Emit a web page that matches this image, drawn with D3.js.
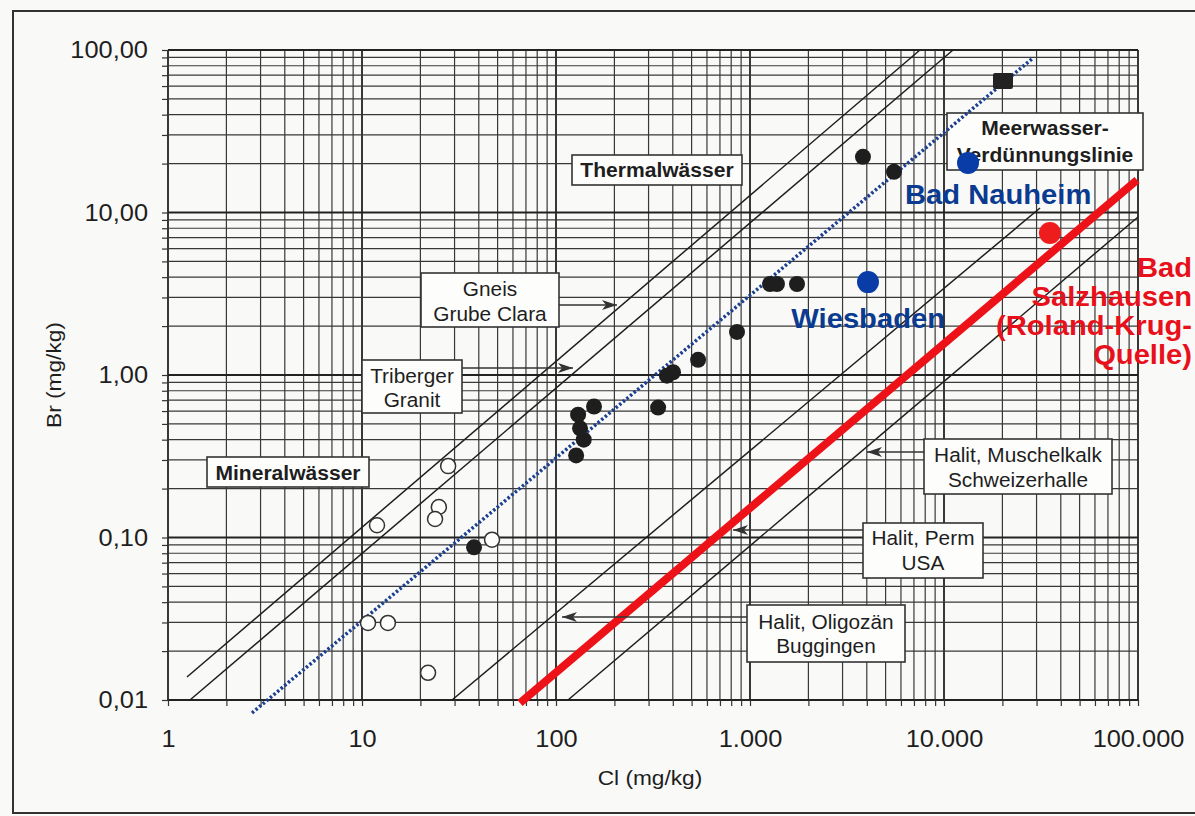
<!DOCTYPE html>
<meta charset="utf-8">
<style>
body { margin: 0; background: #f9faf8; }
svg { display: block; }
text { font-family: "Liberation Sans", Arial, sans-serif; fill: #1e1e1e; }
.grid line { stroke: #383838; stroke-width: 1.2; }
.grid line.major { stroke: #222; stroke-width: 1.8; }
.axis path { display: none; }
.axis line { stroke: #333; stroke-width: 1.2; }
.axis text { font-size: 23.5px; fill: #1e1e1e; }
.guide { stroke: #1e1e1e; stroke-width: 1.5; fill: none; }
.box rect { fill: #fdfdfc; stroke: #333; stroke-width: 1.6; }
.arrow { stroke: #333; stroke-width: 1.4; }
</style>
<body>
<script src="https://d3js.org/d3.v7.min.js"></script>
<script>

var width = 1195, height = 816;

// axis ticks
var clTicks = [1, 10, 100, 1000, 10000, 100000];
var clLabels = ["1", "10", "100", "1.000", "10.000", "100.000"];
var brTicks = [0.01, 0.1, 1, 10, 100];
var brLabels = ["0,01", "0,10", "1,00", "10,00", "100,00"];

// Thermalwässer (filled circles), Cl and Br in mg/kg
var thermalCl = [37.8, 127, 133, 139, 130, 157, 336, 373, 401, 540, 857, 1268, 1377, 1747, 3822, 5523];
var thermalBr = [0.087, 0.32, 0.47, 0.40, 0.57, 0.64, 0.63, 0.99, 1.04, 1.24, 1.84, 3.63, 3.63, 3.63, 22.0, 17.8];

// Mineralwässer (open circles)
var mineralCl = [11.95, 27.8, 24.9, 23.8, 46.8, 10.74, 13.6, 21.9];
var mineralBr = [0.119, 0.275, 0.154, 0.130, 0.097, 0.0298, 0.0298, 0.0147];

// Meerwasser
var seaCl = 20140, seaBr = 64.4;

// highlighted springs
var springNames = ["Bad Nauheim", "Wiesbaden", "Bad Salzhausen"];
var springCl = [13300, 4057, 35170];
var springBr = [20.2, 3.73, 7.48];

// Br/Cl reference lines: Gneis Grube Clara, Triberger Granit, Halit Oligozän, Halit Muschelkalk
var guideCl1 = [1.253, 1.298, 29.1, 115.3];
var guideBr1 = [0.01385, 0.01, 0.01, 0.01];
var guideCl2 = [7516, 11130, 31250, 100000];
var guideBr2 = [100, 100, 10.66, 9.38];

// Meerwasser-Verdünnungslinie and Bad Salzhausen line
var dilutionCl = [2.71, 28770], dilutionBr = [0.00832, 89.3];
var salzCl = [65.2, 98860], salzBr = [0.00958, 15.85];

var x = d3.scaleLog().domain([1, 100000]).range([168, 1138]);
var y = d3.scaleLog().domain([0.01, 100]).range([700, 50]);

function gridValues(lo, hi) {
  var v = [];
  for (var e = lo; e < hi; e++)
    for (var k = 1; k <= 9; k++) v.push(+(k * Math.pow(10, e)).toPrecision(3));
  v.push(Math.pow(10, hi));
  return v;
}
var clGrid = gridValues(0, 5);
var brGrid = gridValues(-2, 2);
function isMajor(d) { return Math.abs(Math.log10(d) - Math.round(Math.log10(d))) < 1e-6; }

var svg = d3.select("body").append("svg")
    .attr("width", width)
    .attr("height", height);

svg.append("defs").append("marker")
    .attr("id", "head")
    .attr("viewBox", "0 -6 16 12")
    .attr("refX", 15).attr("refY", 0)
    .attr("markerWidth", 16).attr("markerHeight", 12)
    .attr("markerUnits", "userSpaceOnUse")
    .attr("orient", "auto")
  .append("path")
    .attr("d", "M0,-5L15,0L0,5L4,0Z")
    .attr("fill", "#333");

// outer frame
svg.append("rect")
    .attr("x", 13).attr("y", 11)
    .attr("width", 1200).attr("height", 802)
    .attr("fill", "none").attr("stroke", "#333").attr("stroke-width", 2);

// grid
var grid = svg.append("g").attr("class", "grid");
grid.selectAll("line.v")
  .data(clGrid)
  .enter().append("line")
    .attr("class", function(d) { return isMajor(d) ? "major" : "minor"; })
    .attr("x1", function(d) { return x(d); })
    .attr("x2", function(d) { return x(d); })
    .attr("y1", y(100)).attr("y2", y(0.01));
grid.selectAll("line.h")
  .data(brGrid)
  .enter().append("line")
    .attr("class", function(d) { return isMajor(d) ? "major" : "minor"; })
    .attr("x1", x(1)).attr("x2", x(100000))
    .attr("y1", function(d) { return y(d); })
    .attr("y2", function(d) { return y(d); });

// axes (ticks + labels)
svg.append("g")
    .attr("class", "axis")
    .attr("transform", "translate(" + x(1) + ",0)")
    .call(d3.axisLeft(y)
      .tickValues(brGrid)
      .tickSize(6).tickSizeOuter(0).tickPadding(14)
      .tickFormat(function(d) {
        var i = brTicks.findIndex(function(t) { return Math.abs(t - d) < 1e-9; });
        return i < 0 ? "" : brLabels[i];
      }));

svg.append("g")
    .attr("class", "axis")
    .attr("transform", "translate(0," + y(0.01) + ")")
    .call(d3.axisBottom(x)
      .tickValues(clGrid)
      .tickSize(6).tickSizeOuter(0).tickPadding(24)
      .tickFormat(function(d) {
        var i = clTicks.findIndex(function(t) { return Math.abs(t - d) < 1e-9; });
        return i < 0 ? "" : clLabels[i];
      }));

svg.append("text")
    .attr("transform", "translate(61,375) rotate(-90)")
    .attr("text-anchor", "middle")
    .style("font-size", "21px")
    .text("Br (mg/kg)");

svg.append("text")
    .attr("x", 650).attr("y", 785)
    .attr("text-anchor", "middle")
    .style("font-size", "21px")
    .text("Cl (mg/kg)");

// thin reference lines
svg.append("g").selectAll("line")
  .data(guideCl1)
  .enter().append("line")
    .attr("class", "guide")
    .attr("x1", function(d, i) { return x(guideCl1[i]); })
    .attr("y1", function(d, i) { return y(guideBr1[i]); })
    .attr("x2", function(d, i) { return x(guideCl2[i]); })
    .attr("y2", function(d, i) { return y(guideBr2[i]); });

// annotation boxes and arrows
function box(x0, y0, w, h, lines, baselines, bold) {
  var g = svg.append("g").attr("class", "box");
  g.append("rect").attr("x", x0).attr("y", y0).attr("width", w).attr("height", h);
  lines.forEach(function(t, i) {
    g.append("text")
        .attr("x", x0 + w / 2).attr("y", baselines[i])
        .attr("text-anchor", "middle")
        .style("font-size", bold ? "19.5px" : "19.3px")
        .style("font-weight", bold ? "bold" : "normal")
        .text(t);
  });
}
function arrow(x1, y1, x2, y2) {
  svg.append("line")
      .attr("class", "arrow")
      .attr("x1", x1).attr("y1", y1).attr("x2", x2).attr("y2", y2)
      .attr("marker-end", "url(#head)");
}

// Bad Salzhausen line (thick red)
svg.append("line")
    .attr("x1", x(salzCl[0])).attr("y1", y(salzBr[0]))
    .attr("x2", x(salzCl[1])).attr("y2", y(salzBr[1]))
    .attr("stroke", "#ec1218").attr("stroke-width", 8);

box(572, 155, 170, 30, ["Thermalwässer"], [177], true);
box(421, 273, 138, 54, ["Gneis", "Grube Clara"], [296, 321], false);
arrow(559, 305, 617, 305);
box(362, 360, 100, 53, ["Triberger", "Granit"], [383, 407], false);
arrow(462, 368, 573, 368);
box(207, 457, 162, 30, ["Mineralwässer"], [480], true);
box(947, 113, 196, 57, ["Meerwasser-", "Verdünnungslinie"], [135, 162], true);
box(924, 439, 188, 55, ["Halit, Muschelkalk", "Schweizerhalle"], [462, 487], false);
arrow(924, 452, 867, 452);
box(863, 523, 120, 55, ["Halit, Perm", "USA"], [545, 570], false);
arrow(863, 530, 733, 530);
box(747, 605, 158, 57, ["Halit, Oligozän", "Buggingen"], [629, 653], false);
arrow(747, 617, 562, 617);

// Meerwasser dilution line (dotted blue)
svg.append("line")
    .attr("x1", x(dilutionCl[0])).attr("y1", y(dilutionBr[0]))
    .attr("x2", x(dilutionCl[1])).attr("y2", y(dilutionBr[1]))
    .attr("stroke", "#1c3f92").attr("stroke-width", 3.5)
    .attr("stroke-dasharray", "2.5,2.2");

// points
svg.append("g").selectAll("circle")
  .data(mineralCl)
  .enter().append("circle")
    .attr("cx", function(d) { return x(d); })
    .attr("cy", function(d, i) { return y(mineralBr[i]); })
    .attr("r", 7.5)
    .attr("fill", "#fdfdfc").attr("stroke", "#333").attr("stroke-width", 1.5);

svg.append("g").selectAll("circle")
  .data(thermalCl)
  .enter().append("circle")
    .attr("cx", function(d) { return x(d); })
    .attr("cy", function(d, i) { return y(thermalBr[i]); })
    .attr("r", 8)
    .attr("fill", "#1e1e1e");

svg.append("rect")
    .attr("x", x(seaCl) - 10).attr("y", y(seaBr) - 8)
    .attr("width", 20).attr("height", 16).attr("rx", 2)
    .attr("fill", "#222");

var springColor = ["#0a3ca8", "#0a3ca8", "#ee1c1c"];
svg.append("g").selectAll("circle")
  .data(springCl)
  .enter().append("circle")
    .attr("cx", function(d) { return x(d); })
    .attr("cy", function(d, i) { return y(springBr[i]); })
    .attr("r", 11)
    .attr("fill", function(d, i) { return springColor[i]; });

// coloured labels
function colorLabel(t, px, py, anchor, col) {
  svg.append("text")
      .attr("x", px).attr("y", py)
      .attr("text-anchor", anchor)
      .style("font-size", "27px").style("font-weight", "bold")
      .style("fill", col)
      .text(t);
}
colorLabel("Bad Nauheim", 905, 204, "start", "#0b3b90");
colorLabel("Wiesbaden", 945, 328, "end", "#0b3b90");
colorLabel("Bad", 1192, 277, "end", "#e8101a");
colorLabel("Salzhausen", 1192, 306, "end", "#e8101a");
colorLabel("(Roland-Krug-", 1192, 335, "end", "#e8101a");
colorLabel("Quelle)", 1192, 364, "end", "#e8101a");

// the scan is a little wider than Arial: stretch all text
svg.selectAll("text").each(function() {
  var w = this.getComputedTextLength();
  if (w > 0) d3.select(this).attr("textLength", w * 1.08).attr("lengthAdjust", "spacingAndGlyphs");
});

</script>
</body>
